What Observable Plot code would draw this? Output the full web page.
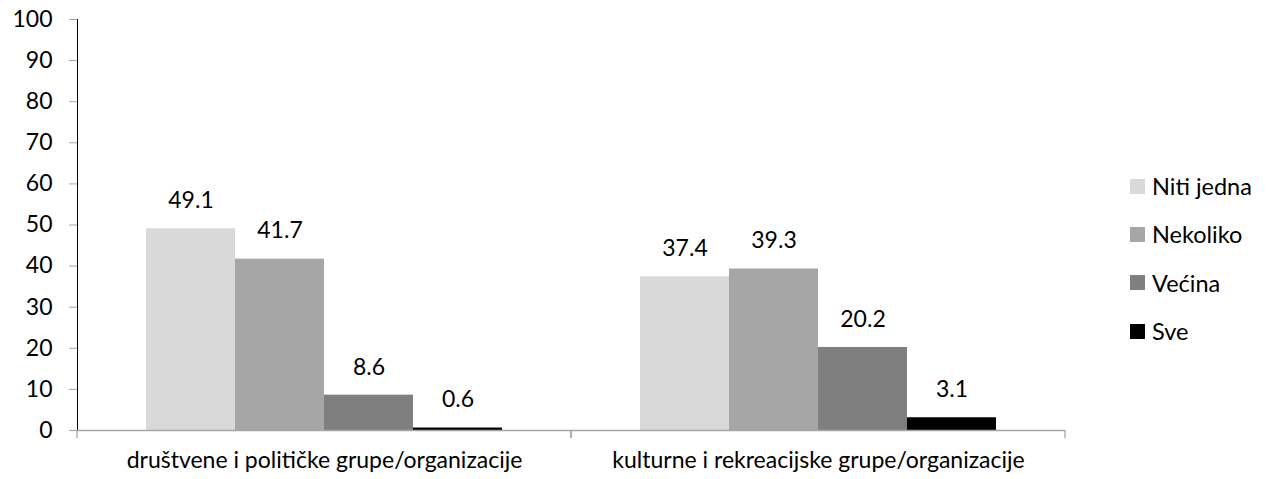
<!DOCTYPE html>
<html>
<head>
<meta charset="utf-8">
<script src="https://cdn.jsdelivr.net/npm/d3@7"></script>
<script src="https://cdn.jsdelivr.net/npm/@observablehq/plot@0.6"></script>
<style>
  html, body { margin: 0; padding: 0; background: #fff; }
  #wrap { position: relative; width: 1271px; height: 479px; font-family: Lato, "Open Sans", sans-serif; }
  #legend { position: absolute; left: 1130px; top: 162px; font-size: 23.5px; color: #000; }
  #legend .item { height: 48.3px; display: flex; align-items: center; }
  #legend .sw { width: 15px; height: 15px; margin-right: 7px; }
  svg g[aria-label^="y-axis"] path, svg g[aria-label^="y-axis"] line { stroke: #a6a6a6; }
</style>
</head>
<body>
<div id="wrap"></div>
<script>
const groups = ["društvene i političke grupe/organizacije", "kulturne i rekreacijske grupe/organizacije"];
const series = ["Niti jedna", "Nekoliko", "Većina", "Sve"];
const valuesDrustvene = [49.1, 41.7, 8.6, 0.6];
const valuesKulturne = [37.4, 39.3, 20.2, 3.1];
const colors = ["#d9d9d9", "#a6a6a6", "#7f7f7f", "#000000"];
const yTicks = [0, 10, 20, 30, 40, 50, 60, 70, 80, 90, 100];

const table = [];
[valuesDrustvene, valuesKulturne].forEach((vals, gi) => {
  vals.forEach((v, si) => table.push({group: groups[gi], series: series[si], value: v}));
});

const axisColor = "#a6a6a6";

const bottomTicks = (index, scales) => {
  const g = d3.create("svg:g");
  const [a, b] = scales.x.range();
  const y0 = scales.y(0);
  for (const xv of [a, b]) {
    g.append("line").attr("x1", xv).attr("x2", xv).attr("y1", y0).attr("y2", y0 + 8)
      .attr("stroke", axisColor).attr("stroke-width", 1.3);
  }
  return g.node();
};

const chart = Plot.plot({
  width: 1271,
  height: 479,
  marginLeft: 76,
  marginRight: 206,
  marginTop: 19,
  marginBottom: 49,
  style: {fontFamily: "Lato, 'Open Sans', sans-serif", fontSize: "23px", color: "#000", background: "#fff", overflow: "visible"},
  facet: {data: table, x: "group"},
  fx: {domain: groups, padding: 0, axis: "bottom", tickSize: 0, tickPadding: 21, label: null},
  x: {domain: series, paddingInner: 0, paddingOuter: 0.757, axis: null},
  y: {domain: [0, 100], ticks: yTicks, tickSize: 8, tickPadding: 17, line: true, label: null, tickFormat: d => String(d)},
  color: {domain: series, range: colors},
  marks: [
    Plot.barY(table, {x: "series", y: "value", fill: "series"}),
    Plot.text(table, {x: "series", y: "value", text: d => d.value.toFixed(1), dy: -28, fill: "#000"}),
    Plot.ruleY([0], {stroke: axisColor, strokeWidth: 1.3}),
    bottomTicks
  ]
});

document.getElementById("wrap").appendChild(chart);

const legend = document.createElement("div");
legend.id = "legend";
series.forEach((s, i) => {
  const item = document.createElement("div");
  item.className = "item";
  const sw = document.createElement("span");
  sw.className = "sw";
  sw.style.background = colors[i];
  const t = document.createElement("span");
  t.textContent = s;
  item.appendChild(sw);
  item.appendChild(t);
  legend.appendChild(item);
});
document.getElementById("wrap").appendChild(legend);
</script>
</body>
</html>
